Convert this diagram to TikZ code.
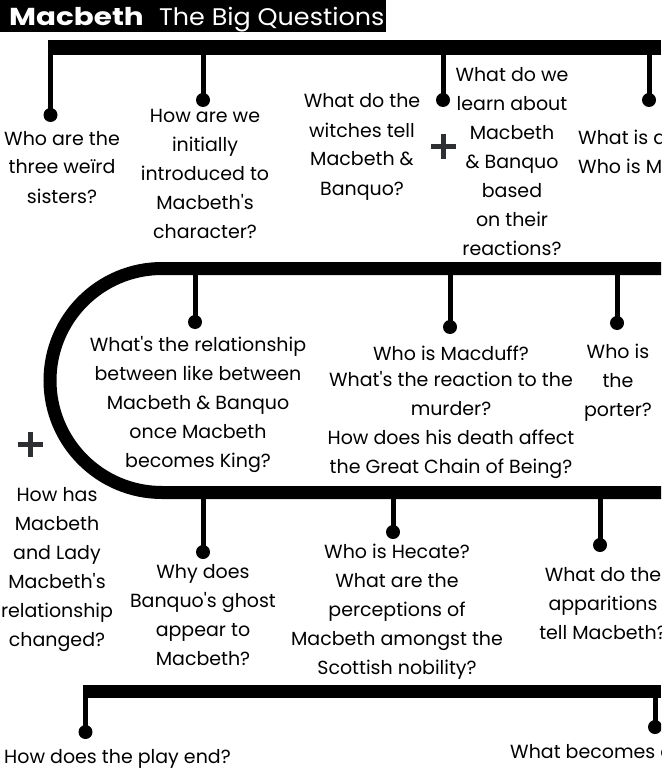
\documentclass[tikz,border=0pt]{standalone}
\usepackage{fontspec}
\setmainfont{Poppins}
\usepackage{xcolor}
\usetikzlibrary{positioning}
\definecolor{plusgrey}{RGB}{45,47,51}
\newcommand{\qfont}{\fontsize{19}{29}\selectfont}
\newcommand{\ap}{\textquotesingle}

\begin{document}
\begin{tikzpicture}[x=1pt, y=-1pt,
  bar/.style={line width=14pt, line cap=butt},
  stem/.style={line width=5pt},
  dot/.style={circle, fill=black, minimum size=14pt, inner sep=0pt},
  ques/.style={font=\qfont, align=center, inner sep=0pt, anchor=base},
  quesl/.style={font=\qfont, align=left, inner sep=0pt, anchor=base west},
  plus/.style={line width=5pt, plusgrey}]
  \useasboundingbox (0,0) rectangle (661,778);
  \clip (0,0) rectangle (661,778);
  % title
  \fill[black] (0,0) rectangle (386,32);
  \node[anchor=base west, inner sep=0pt, text=white, font=\fontsize{24.5}{28}\selectfont\bfseries\addfontfeatures{FakeStretch=1.2}] (ttl) at (9,26) {Macbeth};
  \node[anchor=base west, inner sep=0pt, text=white, font=\fontsize{24}{28}\selectfont\addfontfeatures{FakeStretch=1.06}] (sub) at (159,26) {The Big Questions};
  % bars
  \coordinate (t0) at (48,47.5);
  \coordinate (t1) at (661,47.5);
  \coordinate (m0) at (162,268.5);
  \coordinate (m1) at (661,268.5);
  \coordinate (k0) at (162,492.5);
  \coordinate (k1) at (661,492.5);
  \coordinate (e0) at (83,691);
  \coordinate (e1) at (661,691);
  \draw[bar, line width=15pt] (t0) -- (t1);
  \draw[bar, line width=13pt] (m1) -- (m0) arc[start angle=270, end angle=90, radius=112] -- (k1);
  \draw[bar, line width=13pt] (e0) -- (e1);
  % dots, top row
  \node[dot] (d1) at (50.5,115) {};
  \node[dot] (d2) at (203,100) {};
  \node[dot] (d3) at (443,100) {};
  \node[dot] (d4) at (649,100) {};
  \foreach \d in {d1,d2,d3,d4}
    \draw[stem] (\d.center) -- (\d.center |- t0);
  % dots, loop
  \node[dot] (d5) at (195,322) {};
  \node[dot] (d6) at (450,327) {};
  \node[dot] (d7) at (617,323) {};
  \foreach \d in {d5,d6,d7}
    \draw[stem] (\d.center) -- (\d.center |- m0);
  \node[dot] (d8) at (203,552) {};
  \node[dot] (d9) at (393,532) {};
  \node[dot] (d10) at (600,545) {};
  \foreach \d in {d8,d9,d10}
    \draw[stem] (\d.center) -- (\d.center |- k0);
  % dots, bottom
  \node[dot] (d11) at (85.5,732) {};
  \node[dot] (d12) at (655,727) {};
  \foreach \d in {d11,d12}
    \draw[stem] (\d.center) -- (\d.center |- e0);
  % plus signs
  \draw[plus] (431,147) -- (456,147) (443.5,134.5) -- (443.5,159.5);
  \draw[plus] (18,444.5) -- (43,444.5) (30.5,432) -- (30.5,457);
  % questions, top row (placed at the baseline of the last line)
  \node[ques] (q1) at (62,203) {Who are the\\three weïrd\\sisters?};
  \node[ques] (q2) at (205,238) {How are we\\initially\\introduced to\\Macbeth\ap s\\character?};
  \node[ques] (q3) at (362,195) {What do the\\witches tell\\Macbeth \&\\Banquo?};
  \node[ques] (q4) at (512,255) {What do we\\learn about\\Macbeth\\\& Banquo\\based\\on their\\reactions?};
  \node[quesl] (q5) at (578,174) {What is a\\Who is M};
  % questions, loop
  \node[ques] (q6) at (198,467) {What\ap s the relationship\\between like between\\Macbeth \& Banquo\\once Macbeth\\becomes King?};
  \node[ques] (q7) at (451,473) {Who is Macduff?\\[-3pt]What\ap s the reaction to the\\murder?\\How does his death affect\\the Great Chain of Being?};
  \node[ques] (q8) at (618,416) {Who is\\the\\porter?};
  \node[ques] (q9) at (57,646) {How has\\Macbeth\\and Lady\\Macbeth\ap s\\relationship\\changed?};
  \node[ques] (q10) at (203,665) {Why does\\Banquo\ap s ghost\\appear to\\Macbeth?};
  \node[ques] (q11) at (397,674) {Who is Hecate?\\What are the\\perceptions of\\Macbeth amongst the\\Scottish nobility?};
  \node[ques] (q12) at (603,639) {What do the\\apparitions\\tell Macbeth?};
  % questions, bottom
  \node[quesl] (q13) at (4,763) {How does the play end?};
  \node[quesl] (q14) at (510,758) {What becomes o};
\end{tikzpicture}
\end{document}
